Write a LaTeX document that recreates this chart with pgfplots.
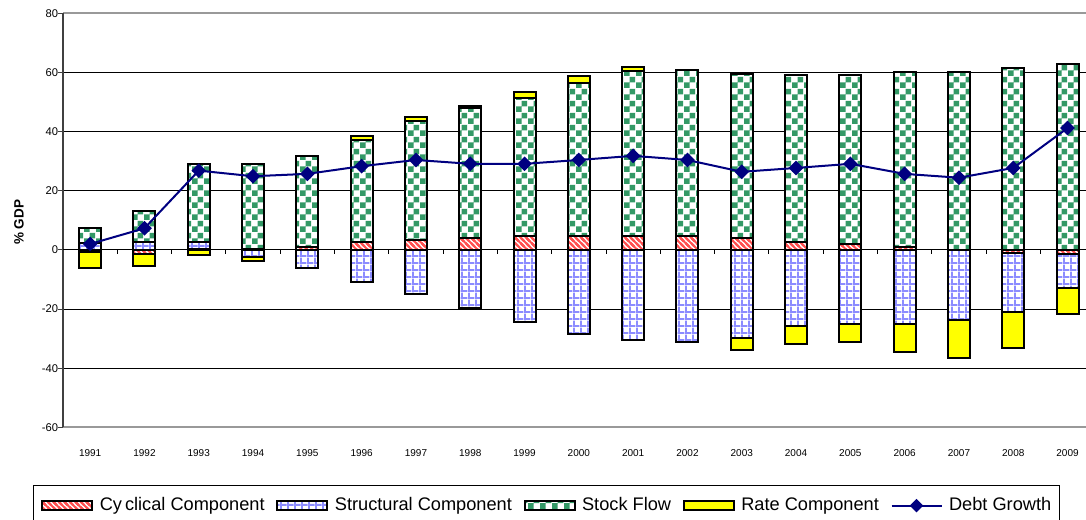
\documentclass[border=0pt]{standalone}
\usepackage{pgfplots}
\pgfplotsset{compat=1.18}
\usepackage{pgfplotstable}
\usepackage{fontspec}
\setmainfont{Liberation Sans}
\usetikzlibrary{patterns}

\definecolor{chk}{RGB}{51,153,102}
\definecolor{grd}{RGB}{140,140,255}
\definecolor{hat}{RGB}{255,80,80}
\definecolor{ylw}{RGB}{255,255,0}
\definecolor{navyc}{RGB}{0,0,128}

\pgfdeclarepatternformonly{mycheck}{\pgfpointorigin}{\pgfpoint{6bp}{6bp}}{\pgfpoint{6bp}{6bp}}{%
  \pgfpathrectangle{\pgfpointorigin}{\pgfpoint{3bp}{3bp}}%
  \pgfpathrectangle{\pgfpoint{3bp}{3bp}}{\pgfpoint{3bp}{3bp}}%
  \pgfusepath{fill}}
\pgfdeclarepatternformonly{mygrid}{\pgfpointorigin}{\pgfpoint{3.6bp}{3.6bp}}{\pgfpoint{3.6bp}{3.6bp}}{%
  \pgfpathrectangle{\pgfpointorigin}{\pgfpoint{3.6bp}{1.1bp}}%
  \pgfpathrectangle{\pgfpointorigin}{\pgfpoint{1.1bp}{3.6bp}}%
  \pgfusepath{fill}}
\pgfdeclarepatternformonly{myhatch}{\pgfpoint{-1bp}{-1bp}}{\pgfpoint{3.75bp}{3.75bp}}{\pgfpoint{2.75bp}{2.75bp}}{%
  \pgfsetlinewidth{0.95bp}%
  \pgfpathmoveto{\pgfpoint{-1bp}{3.75bp}}\pgfpathlineto{\pgfpoint{3.75bp}{-1bp}}%
  \pgfpathmoveto{\pgfpoint{-1bp}{1bp}}\pgfpathlineto{\pgfpoint{1bp}{-1bp}}%
  \pgfpathmoveto{\pgfpoint{1.75bp}{3.75bp}}\pgfpathlineto{\pgfpoint{3.75bp}{1.75bp}}%
  \pgfusepath{stroke}}

\pgfplotstableread{
year cycP strP stkP rateP cycN strN rateN debt
1991 0   2.3 5.0  0   -0.7 0     -5.3  2.0
1992 0   2.5 10.5 0   -1.3 0     -4.2  7.3
1993 0.3 2.3 26.5 0   0    0     -1.9  26.8
1994 0.2 0   28.9 0   0    -2.4  -1.3  24.9
1995 1.0 0   30.8 0   0    -6.1  0     25.7
1996 2.7 0   34.5 1.3 0    -10.9 0     28.3
1997 3.4 0   40.3 1.4 0    -14.9 0     30.4
1998 4.1 0   43.9 0.5 0    -19.6 0     29.1
1999 4.7 0   46.5 2.3 0    -24.3 0     29.1
2000 4.7 0   51.9 2.3 0    -28.4 0     30.4
2001 4.7 0   55.7 1.3 0    -30.4 0     31.8
2002 4.7 0   56.2 0   0    -31.1 0     30.4
2003 3.9 0   55.6 0   0    -29.8 -4.0  26.4
2004 2.6 0   56.7 0   0    -25.7 -6.2  27.7
2005 2.0 0   57.3 0   0    -24.9 -6.3  29.1
2006 1.1 0   59.1 0   0    -25.0 -9.5  25.7
2007 0   0   60.2 0   0    -23.6 -12.9 24.4
2008 0   0   61.6 0   -1.2 -19.7 -12.2 27.7
2009 0   0   62.9 0   -1.3 -11.6 -8.7  41.2
}\data

\pgfplotsset{
  cycst/.style={preaction={fill=white}, pattern=myhatch, pattern color=hat, draw=black, line width=1bp},
  strst/.style={preaction={fill=white}, pattern=mygrid, pattern color=grd, draw=black, line width=1bp},
  stkst/.style={preaction={fill=white}, pattern=mycheck, pattern color=chk, draw=black, line width=1bp},
  ratest/.style={fill=ylw, draw=black, line width=1bp},
  common/.style={
    at={(31.5bp,46.35bp)}, anchor=south west,
    scale only axis, width=515.85bp, height=207bp,
    xmin=1990.5, xmax=2009.5, ymin=-60, ymax=80,
  },
}

\begin{document}
\begin{tikzpicture}
\useasboundingbox (0,0) rectangle (543bp,260bp);
\clip (0,0) rectangle (543bp,260bp);

\begin{axis}[
  common,
  ybar stacked, bar width=11bp,
  separate axis lines,
  every outer x axis line/.append style={black!40, line width=1bp},
  every outer y axis line/.append style={black!75, line width=1bp},
  xtick={1991,1992,1993,1994,1995,1996,1997,1998,1999,2000,2001,2002,2003,2004,2005,2006,2007,2008,2009},
  xticklabels={1991,1992,1993,1994,1995,1996,1997,1998,1999,2000,2001,2002,2003,2004,2005,2006,2007,2008,2009},
  xtick style={draw=none},
  ytick={-60,-40,-20,0,20,40,60,80},
  yticklabels={-60,-40,-20,0,20,40,60,80},
  ytick pos=left,
  tick align=outside,
  major tick length=2.3bp,
  ytick style={black!75, line width=0.5bp},
  ymajorgrids, grid style={black, line width=0.5bp},
  xticklabel style={font=\fontsize{5bp}{6bp}\selectfont, anchor=north, inner sep=0pt, yshift=-8.55bp},
  yticklabel style={font=\fontsize{5.6bp}{6.5bp}\selectfont, anchor=east, inner sep=0pt},
  ylabel={\% GDP},
  ylabel style={font=\bfseries\fontsize{6.75bp}{8bp}\selectfont, at={(axis description cs:-0.04265,0.495)}, anchor=center},
  legend image code/.code={\draw[#1] (0bp,-2.25bp) rectangle (25bp,2.25bp);},
  legend columns=-1,
  legend style={at={(axis description cs:-0.02937,-0.1394)}, anchor=north west,
    draw=black, line width=0.5bp, inner xsep=4bp, inner ysep=5bp,
    font=\fontsize{9.1bp}{11bp}\selectfont,
    nodes={inner xsep=0pt, inner ysep=1bp},
    /tikz/every odd column/.append style={column sep=3.3bp},
    /tikz/every even column/.append style={column sep=5.8bp}},
]
\addplot[cycst] table[x=year, y=cycP]{\data};
\addlegendentry{Cy\,clical Component}
\addplot[strst] table[x=year, y=strP]{\data};
\addlegendentry{Structural Component}
\addplot[stkst] table[x=year, y=stkP]{\data};
\addlegendentry{Stock Flow}
\addplot[ratest] table[x=year, y=rateP]{\data};
\addlegendentry{Rate Component}
\addlegendimage{legend image code/.code={%
  \draw[navyc, line width=1bp] (0bp,0bp) -- (25bp,0bp);
  \fill[navyc] (9.5bp,0bp) -- (12.5bp,3bp) -- (15.5bp,0bp) -- (12.5bp,-3bp) -- cycle;}}
\addlegendentry{Debt Growth}
\end{axis}

\begin{axis}[
  common, hide axis,
  ybar stacked, bar width=11bp,
]
\addplot[cycst] table[x=year, y=cycN]{\data};
\addplot[strst] table[x=year, y=strN]{\data};
\addplot[ratest] table[x=year, y=rateN]{\data};
\end{axis}

\begin{axis}[
  common,
  axis y line=none,
  axis x line=middle,
  x axis line style={-, black, line width=0.5bp},
  xtick={1991.5,1992.5,1993.5,1994.5,1995.5,1996.5,1997.5,1998.5,1999.5,2000.5,2001.5,2002.5,2003.5,2004.5,2005.5,2006.5,2007.5,2008.5},
  xticklabels={},
  xtick align=outside,
  major tick length=2bp,
  xtick style={black, line width=0.5bp},
]
\addplot[navyc, line width=1bp, mark=square*, mark size=2.1bp, mark options={rotate=45, solid, fill=navyc, draw=navyc}] table[x=year, y=debt]{\data};
\end{axis}
\end{tikzpicture}
\end{document}
